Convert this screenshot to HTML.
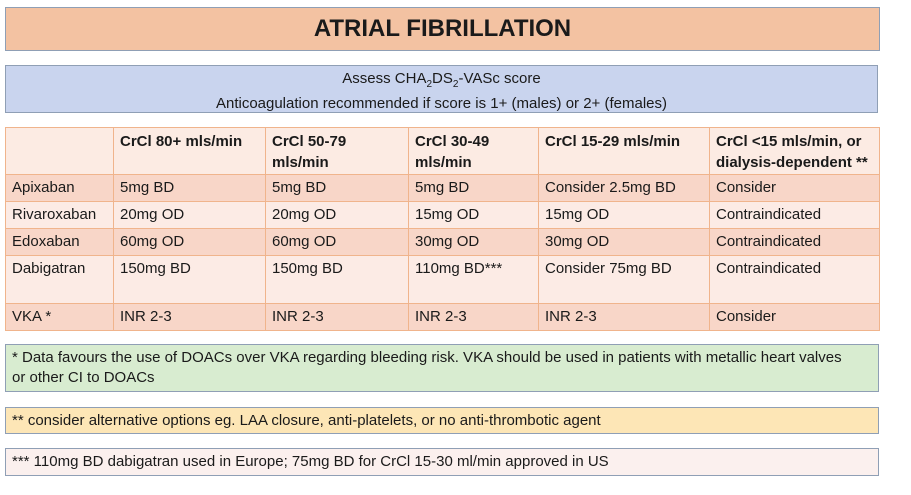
<!DOCTYPE html>
<html><head><meta charset="utf-8"><style>
body{margin:0;width:911px;height:495px;background:#fff;position:relative;overflow:hidden;font-family:"Liberation Sans",Arial,sans-serif;color:#1a1a1a}
.box{position:absolute;box-sizing:border-box;border:1.5px solid #8f9fb5}
table{position:absolute;left:5px;top:127px;width:874px;border-collapse:collapse;font-size:15px;table-layout:fixed}
td{border:1.5px solid #f0b48c;padding:0 6px;vertical-align:top;box-sizing:border-box;white-space:nowrap}
.h td{background:#fcebe3;font-weight:bold;height:47px;padding-top:3px;line-height:21px}
.d td{background:#f8d6c8;height:27px;line-height:26px}
.l td{background:#fcebe5;height:27px;line-height:26px}
</style></head><body>
<div class="box" style="left:5px;top:7px;width:875px;height:44px;background:#f3c2a2;text-align:center;font-weight:bold;font-size:24px;line-height:42px">ATRIAL FIBRILLATION</div>
<div class="box" style="left:5px;top:65px;width:873px;height:48px;background:#c9d4ee;text-align:center;font-size:15px;line-height:19px;padding-top:3px">Assess CHA<sub style="font-size:10px">2</sub>DS<sub style="font-size:10px">2</sub>-VASc score<br>Anticoagulation recommended if score is 1+ (males) or 2+ (females)</div>
<table>
<colgroup><col style="width:108px"><col style="width:152px"><col style="width:143px"><col style="width:130px"><col style="width:171px"><col style="width:170px"></colgroup>
<tr class="h"><td></td><td>CrCl 80+ mls/min</td><td>CrCl 50-79<br>mls/min</td><td>CrCl 30-49<br>mls/min</td><td>CrCl 15-29 mls/min</td><td>CrCl &lt;15 mls/min, or<br>dialysis-dependent **</td></tr>
<tr class="d"><td>Apixaban</td><td>5mg BD</td><td>5mg BD</td><td>5mg BD</td><td>Consider 2.5mg BD</td><td>Consider</td></tr>
<tr class="l"><td>Rivaroxaban</td><td>20mg OD</td><td>20mg OD</td><td>15mg OD</td><td>15mg OD</td><td>Contraindicated</td></tr>
<tr class="d"><td>Edoxaban</td><td>60mg OD</td><td>60mg OD</td><td>30mg OD</td><td>30mg OD</td><td>Contraindicated</td></tr>
<tr class="l"><td style="height:48px">Dabigatran</td><td>150mg BD</td><td>150mg BD</td><td>110mg BD***</td><td>Consider 75mg BD</td><td>Contraindicated</td></tr>
<tr class="d"><td>VKA *</td><td>INR 2-3</td><td>INR 2-3</td><td>INR 2-3</td><td>INR 2-3</td><td>Consider</td></tr>
</table>
<div class="box" style="left:5px;top:344px;width:874px;height:48px;background:#d8ecd0;font-size:15px;line-height:20px;padding:3px 6px;white-space:nowrap">* Data favours the use of DOACs over VKA regarding bleeding risk. VKA should be used in patients with metallic heart valves<br>or other CI to DOACs</div>
<div class="box" style="left:5px;top:407px;width:874px;height:27px;background:#fde6b6;font-size:15px;line-height:25px;padding:0 6px">** consider alternative options eg. LAA closure, anti-platelets, or no anti-thrombotic agent</div>
<div class="box" style="left:5px;top:448px;width:874px;height:28px;background:#fbf0ee;font-size:15px;line-height:26px;padding:0 6px">*** 110mg BD dabigatran used in Europe; 75mg BD for CrCl 15-30 ml/min approved in US</div>
</body></html>
